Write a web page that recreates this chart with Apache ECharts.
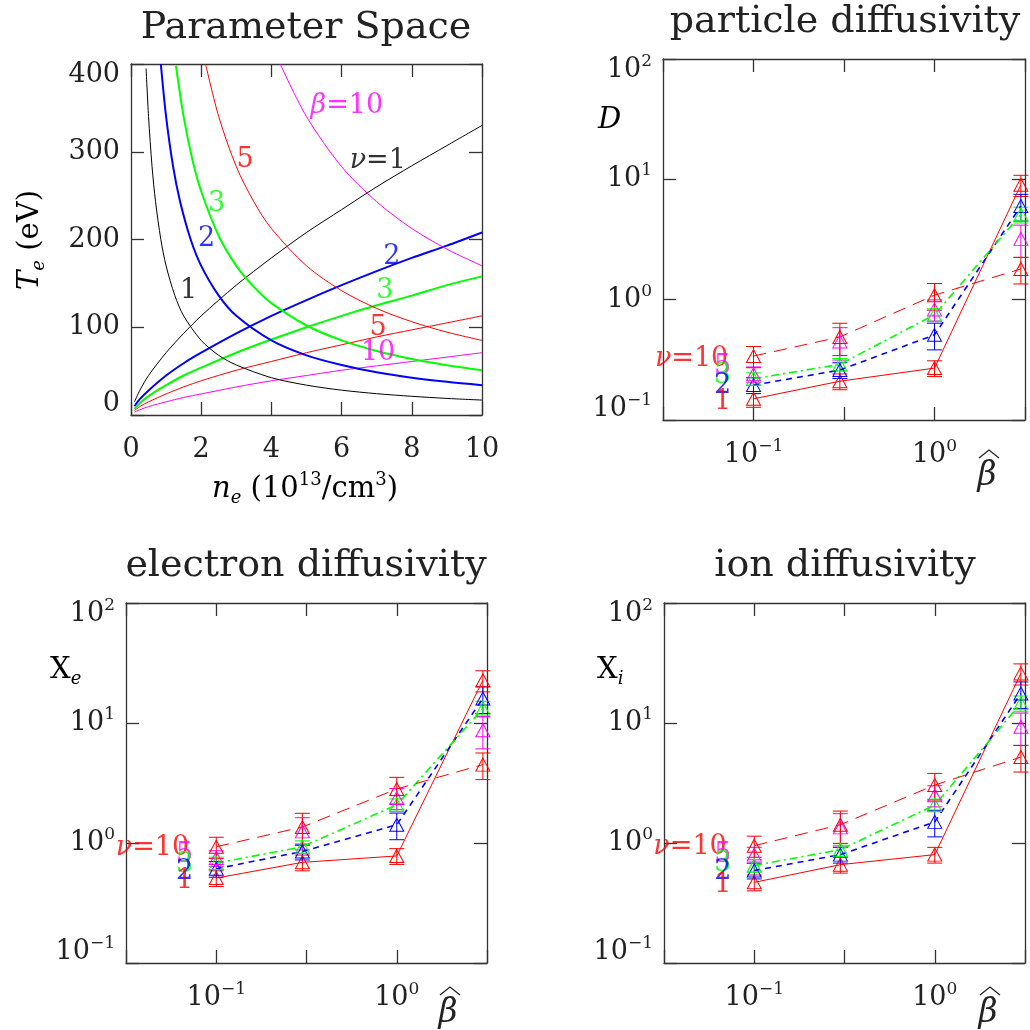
<!DOCTYPE html>
<html>
<head>
<meta charset="utf-8">
<script src="https://cdn.jsdelivr.net/npm/echarts@6/dist/echarts.min.js"></script>
<style>
html, body { margin: 0; padding: 0; background: #fff; }
#main { width: 1030px; height: 1030px; }
</style>
</head>
<body>
<div id="main"></div>
<script>
const F = 'DejaVu Serif';
const INK = '#222';
const RED = '#ff0000', BLUE = '#0000ff', GREEN = '#00ff00', MAG = '#ff00ff', BLACK = '#000000';

// ---------------- parameter space: n_e (1e13/cm3) vs T_e (eV) ----------------
// collisionality curves nu = 1, 2, 3, 5, 10
const nuN   = [0.1, 0.25, 0.5, 1, 1.5, 2, 3, 4, 5, 6, 7, 8, 9, 10];
const nu1T  = [15, 28, 45, 71, 93, 113, 148, 179, 208, 234, 260, 284, 307, 330];
const nu2T  = [10, 18, 28, 45, 59, 71, 93, 113, 131, 148, 164, 179, 193, 208];
const nu3T  = [7, 13.5, 21.5, 34, 45, 54, 71, 86, 100, 113, 125, 136, 148, 158];
const nu5T  = [5, 9.6, 15, 24, 32, 39, 51, 61, 71, 80, 89, 97, 105, 113];
const nu10T = [3.3, 6, 9.6, 15, 20, 24, 32, 39, 45, 51, 56, 61, 66, 71];

// beta curves beta = 1, 2, 3, 5, 10
const b1N  = [0.43, 0.5, 0.6, 0.7, 0.85, 1, 1.25, 1.5, 2, 2.5, 3, 4, 5, 6, 7, 8, 9, 10];
const b1T  = [395, 340, 283, 243, 200, 170, 136, 113, 85, 68, 57, 42.5, 34, 28.3, 24.3, 21.3, 18.9, 17];
const b2N  = [0.85, 1, 1.2, 1.4, 1.7, 2, 2.5, 3, 4, 5, 6, 7, 8, 9, 10];
const b2T  = [400, 340, 283, 243, 200, 170, 136, 113, 85, 68, 57, 48.6, 42.5, 37.8, 34];
const b3N  = [1.28, 1.5, 1.75, 2, 2.5, 3, 3.5, 4, 5, 6, 7, 8, 9, 10];
const b3T  = [398, 340, 291, 255, 204, 170, 146, 127.5, 102, 85, 72.9, 63.8, 56.7, 51];
const b5N  = [2.13, 2.5, 3, 3.5, 4, 5, 6, 7, 8, 9, 10];
const b5T  = [399, 340, 283, 243, 212.5, 170, 141.7, 121.4, 106.3, 94.4, 85];
const b10N = [4.25, 5, 6, 7, 8, 9, 10];
const b10T = [400, 340, 283, 243, 212.5, 189, 170];

// ---------------- diffusivities vs beta-hat ----------------
const betaHat = [0.1, 0.3, 1, 3];

const dNu1  = [0.15, 0.21, 0.27, 9.0];
const dNu2  = [0.195, 0.26, 0.51, 6.0];
const dNu3  = [0.22, 0.29, 0.75, 5.1];
const dNu5  = [0.24, 0.45, 0.83, 3.2];
const dNu10 = [0.34, 0.49, 1.09, 1.8];

const eNu1  = [0.51, 0.69, 0.78, 22.7];
const eNu2  = [0.61, 0.85, 1.42, 16];
const eNu3  = [0.68, 0.93, 2.08, 13.2];
const eNu5  = [0.75, 1.25, 2.37, 8.7];
const eNu10 = [0.93, 1.36, 2.82, 4.5];

const iNu1  = [0.47, 0.66, 0.8, 25.9];
const iNu2  = [0.59, 0.8, 1.5, 17.6];
const iNu3  = [0.65, 0.88, 2.07, 14.6];
const iNu5  = [0.8, 1.35, 2.5, 9.3];
const iNu10 = [0.95, 1.42, 3.04, 5.2];

// relative error bar half-heights
const errNu1  = [0.15, 0.15, 0.15, 0.2];
const errNu2  = [0.15, 0.15, 0.25, 0.25];
const errNu3  = [0.12, 0.12, 0.12, 0.15];
const errNu5  = [0.15, 0.3, 0.2, 0.3];
const errNu10 = [0.2, 0.3, 0.25, 0.25];

let chart = echarts.init(document.getElementById('main'), null, { renderer: 'canvas' });

// ---------------- axes helpers ----------------
const frameLine = { color: '#333', width: 1.3 };

const tickRich = {
    b:  { fontFamily: F, fontSize: 27, color: INK, lineHeight: 34 },
    p:  { fontFamily: F, fontSize: 17, color: INK, lineHeight: 17, verticalAlign: 'top' },
    sp: { fontFamily: F, fontSize: 10, color: INK, lineHeight: 22 }
};

function axis(gridIndex, position, base, label) {
    return Object.assign({
        gridIndex: gridIndex,
        position: position,
        axisLine: { show: true, onZero: false, lineStyle: frameLine },
        axisTick: { show: true, inside: true, length: 13, lineStyle: frameLine },
        minorTick: { show: false },
        splitLine: { show: false },
        axisPointer: { show: false },
        axisLabel: label || { show: false }
    }, base);
}

// labels at the ends of a vertical axis are pushed inside the frame
function shifted(text, where) {
    if (where === 'down') return '{sp| }\n' + text;
    if (where === 'up') return text + '\n{sp| }';
    return text;
}

function pow10Label(k) {
    let s = k < 0 ? '\u2212' + (-k) : '' + k;
    return '{b|10}{p|' + s + '}';
}

const linX = { type: 'value', min: 0, max: 10, interval: 2 };
const linY = { type: 'value', min: 0, max: 400, interval: 100 };
const logX = { type: 'log', logBase: Math.sqrt(10), min: Math.pow(10, -1.5), max: Math.pow(10, 0.5) };
const logY = { type: 'log', logBase: 10, min: 0.1, max: 100 };

const linXLabel = { show: true, margin: 18, rich: tickRich, formatter: v => '{b|' + v + '}' };
const linYLabel = {
    show: true, margin: 11, rich: tickRich,
    formatter: v => shifted('{b|' + v + '}', v === 400 ? 'down' : v === 0 ? 'up' : '')
};
const logXLabel = {
    show: true, margin: 18, rich: tickRich,
    formatter: v => {
        let k = Math.round(2 * Math.log10(v));
        if (k % 2 !== 0 || k <= -3 || k >= 1) return '';
        return pow10Label(k / 2);
    }
};
const logYLabel = {
    show: true, margin: 11, rich: tickRich,
    formatter: v => {
        let k = Math.round(Math.log10(v));
        return shifted(pow10Label(k), k === 2 ? 'down' : k === -1 ? 'up' : '');
    }
};

let xAxes = [], yAxes = [];
[0, 1, 2, 3].forEach(g => {
    let bx = g === 0 ? linX : logX;
    let by = g === 0 ? linY : logY;
    xAxes.push(axis(g, 'bottom', bx, g === 0 ? linXLabel : logXLabel));
    xAxes.push(axis(g, 'top', bx));
    yAxes.push(axis(g, 'left', by, g === 0 ? linYLabel : logYLabel));
    yAxes.push(axis(g, 'right', by));
});

// ---------------- series ----------------
let series = [];

function curve(xs, ys, color, width) {
    return {
        type: 'line', xAxisIndex: 0, yAxisIndex: 0,
        data: xs.map((x, i) => [x, ys[i]]),
        symbol: 'none', showSymbol: false,
        smooth: 0.3,
        lineStyle: { color: color, width: width },
        silent: true
    };
}

series.push(curve(nuN, nu1T, BLACK, 1));
series.push(curve(nuN, nu2T, BLUE, 2));
series.push(curve(nuN, nu3T, GREEN, 2));
series.push(curve(nuN, nu5T, RED, 1));
series.push(curve(nuN, nu10T, MAG, 1));
series.push(curve(b1N, b1T, BLACK, 1));
series.push(curve(b2N, b2T, BLUE, 2));
series.push(curve(b3N, b3T, GREEN, 2));
series.push(curve(b5N, b5T, RED, 1));
series.push(curve(b10N, b10T, MAG, 1));

const labRich = {
    gk: { fontFamily: F, fontSize: 27, fontStyle: 'italic', color: BLACK },
    nk: { fontFamily: F, fontSize: 27, color: BLACK },
    gm: { fontFamily: F, fontSize: 27, fontStyle: 'italic', color: MAG },
    nm: { fontFamily: F, fontSize: 27, color: MAG },
    gr: { fontFamily: F, fontSize: 27, fontStyle: 'italic', color: RED },
    nr: { fontFamily: F, fontSize: 27, color: RED }
};

function labelItem(pos, text, color) {
    return { value: pos, label: { formatter: text, color: color } };
}

// curve annotations of the parameter space panel
series.push({
    type: 'scatter', xAxisIndex: 0, yAxisIndex: 0, symbolSize: 0, silent: true, clip: false, z: 5,
    label: { show: true, position: 'inside', fontFamily: F, fontSize: 27, rich: labRich },
    data: [
        labelItem([1.64, 141], '1', BLACK),
        labelItem([2.15, 201], '2', BLUE),
        labelItem([2.44, 241], '3', GREEN),
        labelItem([3.25, 291], '5', RED),
        labelItem([6.15, 352], '{gm|\u03b2}{nm|=10}', MAG),
        labelItem([7.03, 289], '{gk|\u03bd}{nk|=1}', BLACK),
        labelItem([7.43, 180], '2', BLUE),
        labelItem([7.23, 141], '3', GREEN),
        labelItem([7.04, 99], '5', RED),
        labelItem([7.04, 71], '10', MAG)
    ]
});

function errBar(params, api) {
    let x = api.value(0), lo = api.value(1), hi = api.value(2);
    let p1 = api.coord([x, hi]), p2 = api.coord([x, lo]);
    let w = 7.5;
    let st = { stroke: api.visual('color'), lineWidth: 1, fill: null };
    return {
        type: 'group',
        children: [
            { type: 'line', shape: { x1: p1[0], y1: p1[1], x2: p2[0], y2: p2[1] }, style: st },
            { type: 'line', shape: { x1: p1[0] - w, y1: p1[1], x2: p1[0] + w, y2: p1[1] }, style: st },
            { type: 'line', shape: { x1: p2[0] - w, y1: p2[1], x2: p2[0] + w, y2: p2[1] }, style: st }
        ]
    };
}

const nuStyle = [
    { color: RED,   dash: 'solid',      width: 1,   show: true },
    { color: BLUE,  dash: [6, 5],       width: 1.6, show: true },
    { color: GREEN, dash: [8, 4, 2, 4], width: 1.6, show: true },
    { color: MAG,   dash: 'solid',      width: 1,   show: false },
    { color: RED,   dash: [13, 8],      width: 1,   show: true }
];
const nuErr = [errNu1, errNu2, errNu3, errNu5, errNu10];

function panel(g, sets, labPos) {
    let xi = 2 * g, yi = 2 * g;
    sets.forEach((vals, k) => {
        let s = nuStyle[k];
        let e = nuErr[k];
        series.push({
            type: 'custom', xAxisIndex: xi, yAxisIndex: yi, renderItem: errBar,
            itemStyle: { color: s.color }, encode: { x: 0, y: [1, 2] },
            data: betaHat.map((b, i) => [b, vals[i] * (1 - e[i]), vals[i] * (1 + e[i])]),
            clip: false, silent: true, z: 3
        });
        series.push({
            type: 'line', xAxisIndex: xi, yAxisIndex: yi,
            data: betaHat.map((b, i) => [b, vals[i]]),
            symbol: 'triangle', symbolSize: [14, 13], showSymbol: true,
            itemStyle: { color: 'rgba(0,0,0,0)', borderColor: s.color, borderWidth: 1 },
            lineStyle: { color: s.color, width: s.width, type: s.dash, opacity: s.show ? 1 : 0 },
            clip: false, silent: true, z: 4
        });
    });
    series.push({
        type: 'scatter', xAxisIndex: xi, yAxisIndex: yi, symbolSize: 0, silent: true, clip: false, z: 5,
        label: { show: true, position: 'inside', fontFamily: F, fontSize: 27, rich: labRich },
        data: [
            labelItem(labPos[0], '{gr|\u03bd}{nr|=10}', RED),
            labelItem(labPos[1], '5', MAG),
            labelItem(labPos[2], '3', GREEN),
            labelItem(labPos[3], '2', BLUE),
            labelItem(labPos[4], '1', RED)
        ]
    });
}

panel(1, [dNu1, dNu2, dNu3, dNu5, dNu10],
    [[0.0455, 0.323], [0.0675, 0.277], [0.0675, 0.233], [0.0675, 0.193], [0.0675, 0.142]]);
panel(2, [eNu1, eNu2, eNu3, eNu5, eNu10],
    [[0.0443, 0.91], [0.0667, 0.80], [0.0667, 0.66], [0.0667, 0.57], [0.0667, 0.48]]);
panel(3, [iNu1, iNu2, iNu3, iNu5, iNu10],
    [[0.0441, 0.935], [0.067, 0.80], [0.067, 0.67], [0.067, 0.57], [0.067, 0.45]]);

// ---------------- titles / axis names ----------------
const nameRich = {
    i: { fontFamily: F, fontSize: 29, fontStyle: 'italic', color: INK, lineHeight: 36 },
    n: { fontFamily: F, fontSize: 29, color: INK, lineHeight: 36 },
    s: { fontFamily: F, fontSize: 18, fontStyle: 'italic', color: INK, lineHeight: 18, verticalAlign: 'bottom' },
    p: { fontFamily: F, fontSize: 18, color: INK, lineHeight: 18, verticalAlign: 'top' }
};

function title(x, y, text) {
    return { type: 'text', x: x, y: y, silent: true,
        style: { text: text, fontFamily: F, fontSize: 38, fill: INK, align: 'center', verticalAlign: 'middle' } };
}
function richText(x, y, text, align, rot) {
    return { type: 'text', x: x, y: y, rotation: rot || 0, silent: true,
        style: { text: text, rich: nameRich, align: align || 'center', verticalAlign: 'middle' } };
}
function betaHatName(x, y) {
    return [
        { type: 'text', x: x, y: y, silent: true,
          style: { text: '\u03b2', fontFamily: F, fontStyle: 'italic', fontSize: 33, fill: INK, align: 'center', verticalAlign: 'middle' } },
        { type: 'polyline', x: x + 2, y: y - 24, silent: true,
          shape: { points: [[-10, 6], [0, -2], [10, 6]] },
          style: { stroke: INK, lineWidth: 1.3, fill: null } }
    ];
}

let graphics = [
    title(306, 28, 'Parameter Space'),
    title(845, 22, 'particle diffusivity'),
    title(306, 566, 'electron diffusivity'),
    title(845, 566, 'ion diffusivity'),
    richText(30, 240, '{i|T}{s|e}{n| (eV)}', 'center', Math.PI / 2),
    richText(305, 489, '{i|n}{s|e}{n| (10}{p|13}{n|/cm}{p|3}{n|)}', 'center'),
    richText(598, 120, '{i|D}', 'left'),
    richText(50, 670, '{n|X}{s|e}', 'left'),
    richText(597, 670, '{n|X}{s|i}', 'left')
].concat(betaHatName(987, 476), betaHatName(448, 1013), betaHatName(988, 1013));

chart.setOption({
    animation: false,
    backgroundColor: '#fff',
    grid: [
        { left: 131, top: 64, width: 351, height: 351 },
        { left: 663, top: 59, width: 362, height: 361 },
        { left: 126, top: 603, width: 361, height: 360 },
        { left: 664, top: 603, width: 361, height: 360 }
    ].map(g => Object.assign({ containLabel: false, outerBoundsMode: 'none' }, g)),
    xAxis: xAxes,
    yAxis: yAxes,
    series: series,
    graphic: graphics
});
</script>
</body>
</html>
